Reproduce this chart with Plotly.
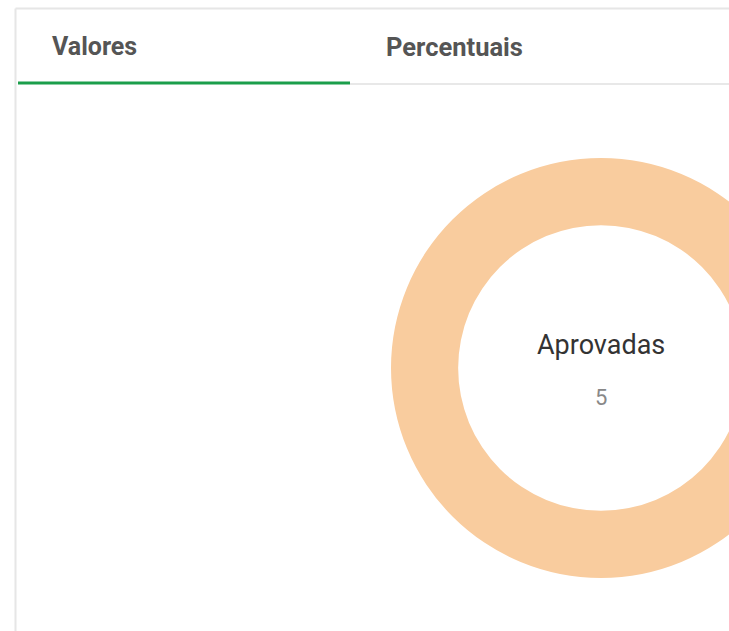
import plotly.graph_objects as go

# Data
tabs = ["Valores", "Percentuais"]
labels = ["Aprovadas"]
values = [5]
colors = ["#F9CC9E"]

W, H = 900, 631  # figure wider than the window: donut is cut at the right edge


def fx(px):
    return px / W


def fy(py):
    return 1 - py / H


cx, cy, r = 601, 368, 210

fig = go.Figure(
    go.Pie(
        labels=labels,
        values=values,
        hole=0.68,
        marker=dict(colors=colors, line=dict(width=0)),
        textinfo="none",
        hoverinfo="label+value",
        sort=False,
        domain=dict(x=[fx(cx - r), fx(cx + r)], y=[fy(cy + r), fy(cy - r)]),
        showlegend=False,
    )
)

shapes = [
    # card borders
    dict(type="line", x0=fx(15.5), x1=fx(W), y0=fy(8.5), y1=fy(8.5),
         line=dict(color="#E6E6E6", width=2)),
    dict(type="line", x0=fx(15.5), x1=fx(15.5), y0=fy(8.5), y1=0,
         line=dict(color="#E6E6E6", width=2)),
    # tab underline
    dict(type="line", x0=fx(350), x1=fx(W), y0=fy(84), y1=fy(84),
         line=dict(color="#E8E8E8", width=2)),
    dict(type="line", x0=fx(18), x1=fx(350), y0=fy(83), y1=fy(83),
         line=dict(color="#1B9E4B", width=3)),
]

annotations = [
    dict(text=f"<b>{tabs[0]}</b>", x=fx(50), y=fy(47), xanchor="left", yanchor="middle",
         font=dict(family="Roboto", size=25, color="#555555")),
    dict(text=f"<b>{tabs[1]}</b>", x=fx(384), y=fy(47), xanchor="left", yanchor="middle",
         font=dict(family="Roboto", size=25.5, color="#555555")),
    dict(text=labels[0], x=fx(cx), y=fy(345), xanchor="center", yanchor="middle",
         font=dict(family="Roboto", size=27, color="#333333")),
    dict(text=str(values[0]), x=fx(cx), y=fy(398), xanchor="center", yanchor="middle",
         font=dict(family="Roboto", size=22, color="#888888")),
]
for a in annotations:
    a.update(xref="paper", yref="paper", showarrow=False)
for s in shapes:
    s.update(xref="paper", yref="paper")

fig.update_layout(
    width=W,
    height=H,
    margin=dict(l=0, r=0, t=0, b=0),
    paper_bgcolor="white",
    plot_bgcolor="white",
    shapes=shapes,
    annotations=annotations,
)

fig.write_html(
    "out.html",
    config={"displayModeBar": False},
    post_script="document.body.style.margin='0';document.body.style.overflow='hidden';document.documentElement.style.overflow='hidden';",
)
